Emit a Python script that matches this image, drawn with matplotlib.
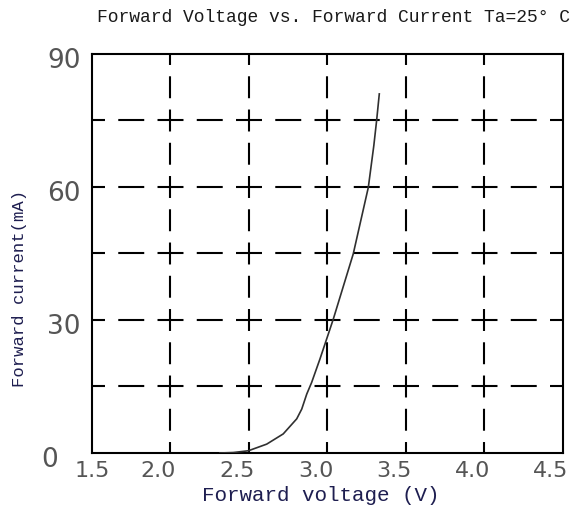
import matplotlib
matplotlib.use('Agg')
import matplotlib.pyplot as plt
import matplotlib.transforms as mtransforms

# forward voltage (V) vs forward current (mA)
voltage = [2.315, 2.40, 2.496, 2.613, 2.718, 2.804, 2.836, 2.868, 2.899, 2.952,
           3.005, 3.037, 3.164, 3.260, 3.295, 3.313, 3.330]
current = [0.0, 0.1, 0.5, 2.0, 4.3, 7.7, 9.9, 13.3, 15.9, 21.2,
           26.8, 30.2, 44.9, 59.9, 69.3, 75.0, 81.0]

x_ticks = [1.5, 2.0, 2.5, 3.0, 3.5, 4.0, 4.5]
x_labels = ['1.5', '2.0', '2.5', '3.0', '3.5', '4.0', '4.5']
y_ticks = [0, 30, 60, 90]
y_labels = ['0', '30', '60', '90']
x_grid = [2.0, 2.5, 3.0, 3.5, 4.0]
y_grid = [15, 30, 45, 60, 75]

plt.rcParams['lines.scale_dashes'] = False

fig = plt.figure(figsize=(5.76, 5.06), dpi=100)
ax = fig.add_axes([0.1597, 0.1028, 0.8177, 0.7885])

ax.set_xlim(1.5, 4.5)
ax.set_ylim(0, 90)

#grid, dashes centred on the crossings (values in points, 1px = 0.72pt)
h_dash, h_gap = 18.7, 9.56
v_dash, v_gap = 15.8, 8.14
for y in y_grid:
    ax.axhline(y, color='black', lw=1.5, linestyle=(h_dash / 2, (h_dash, h_gap)), zorder=1)
for x in x_grid:
    ax.axvline(x, color='black', lw=1.5, linestyle=(v_dash / 2, (v_dash, v_gap)), zorder=1)

#curve
ax.plot(voltage, current, color='#303030', lw=1.2, zorder=3)

#frame
for s in ax.spines.values():
    s.set_linewidth(1.5)
    s.set_color('black')

ax.set_xticks(x_ticks)
ax.set_xticklabels(x_labels, family='DejaVu Sans', size=16, color='#555555')
ax.set_yticks(y_ticks)
ax.set_yticklabels(y_labels, family='DejaVu Sans', size=19, color='#555555')
ax.tick_params(length=0)
ax.tick_params(axis='x', pad=5)
ax.tick_params(axis='y', pad=8)

def shift(lab, dx, dy):
    lab.set_transform(lab.get_transform() +
                      mtransforms.ScaledTranslation(dx / 100, dy / 100, fig.dpi_scale_trans))

#x labels in the original sit a bit left of their grid lines
for i, lab in enumerate(ax.get_xticklabels()):
    if i > 0:
        shift(lab, -12, 0)
ylabs = ax.get_yticklabels()
for lab in ylabs:
    shift(lab, 0, -3)
#the 0 sits further left
shift(ylabs[0], -23, 0)

label_col = '#1e1e50'
fig.text(321 / 576, 1 - 496 / 506, 'Forward voltage (V)', ha='center', va='center',
         family='Liberation Mono', size=15, color=label_col)
fig.text(20 / 576, 1 - 288 / 506, 'Forward current(mA)', ha='center', va='center',
         rotation=90, family='Liberation Mono', size=12.4, color=label_col)

fig.text(97 / 576, 1 - 18 / 506, 'Forward Voltage vs. Forward Current Ta=25\u00b0 C',
         ha='left', va='center', family='Liberation Mono', size=13, color='#1a1a1a')

fig.savefig('out.png', dpi=100)
